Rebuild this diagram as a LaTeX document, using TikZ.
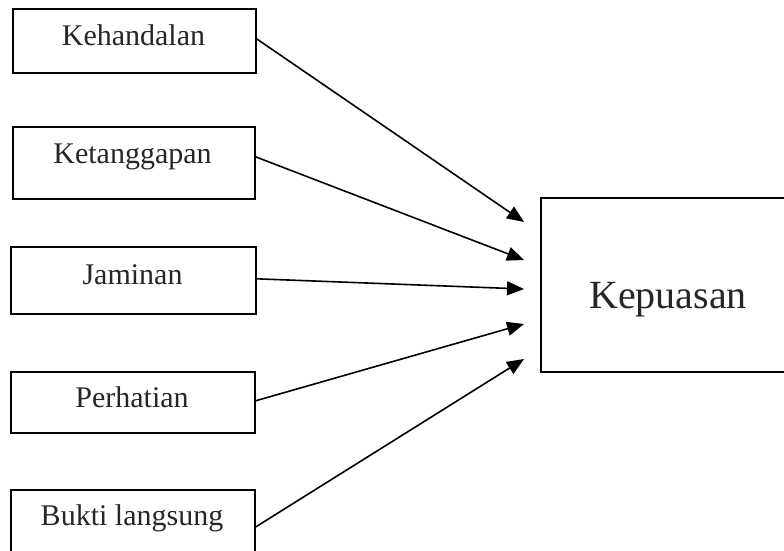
\documentclass[tikz,border=0pt]{standalone}
\usepackage{fontspec}
\setmainfont{Liberation Serif}
\usetikzlibrary{arrows.meta}
\begin{document}
\begin{tikzpicture}[x=1pt,y=-1pt,
  box/.style={draw=black,line width=1.6pt,inner sep=0pt,anchor=north west},
  lbl/.style={anchor=base,inner sep=0pt,font=\fontsize{30}{30}\selectfont,text=black!85},
  big/.style={anchor=base,inner sep=0pt,font=\fontsize{40}{40}\selectfont,text=black!85},
  arr/.style={line width=1.6pt,-{Triangle[length=17pt,width=14pt]}}]
\useasboundingbox (0,0) rectangle (784,550);
\clip (0,0) rectangle (784,550);
\node[box,minimum width=243pt,minimum height=64pt] (b1) at (12,8) {};
\node[box,minimum width=242pt,minimum height=72pt] (b2) at (12,126) {};
\node[box,minimum width=245pt,minimum height=67pt] (b3) at (10,246) {};
\node[box,minimum width=244pt,minimum height=61pt] (b4) at (10,371) {};
\node[box,minimum width=244pt,minimum height=80pt] (b5) at (10,489) {};
\node[box,minimum width=270pt,minimum height=174pt] (k) at (540,197) {};
\node[lbl] (t1) at (133.5,45) {Kehandalan};
\node[lbl] (t2) at (132.5,163) {Ketanggapan};
\node[lbl] (t3) at (132.5,284) {Jaminan};
\node[lbl] (t4) at (132,407) {Perhatian};
\node[lbl] (t5) at (132,525) {Bukti langsung};
\node[big] (tk) at (668,308) {Kepuasan};
\coordinate (e1) at (524,222);
\coordinate (e2) at (524,260);
\coordinate (e3) at (524,289);
\coordinate (e4) at (524,324);
\coordinate (e5) at (524,359);
\draw[arr] ([yshift=2pt]b1.east) -- (e1);
\draw[arr] ([yshift=6pt]b2.east) -- (e2);
\draw[arr] ([yshift=1.5pt]b3.east) -- (e3);
\draw[arr] ([yshift=1.5pt]b4.east) -- (e4);
\draw[arr] (b5.north east |- 0,527) -- (e5);
\end{tikzpicture}
\end{document}
